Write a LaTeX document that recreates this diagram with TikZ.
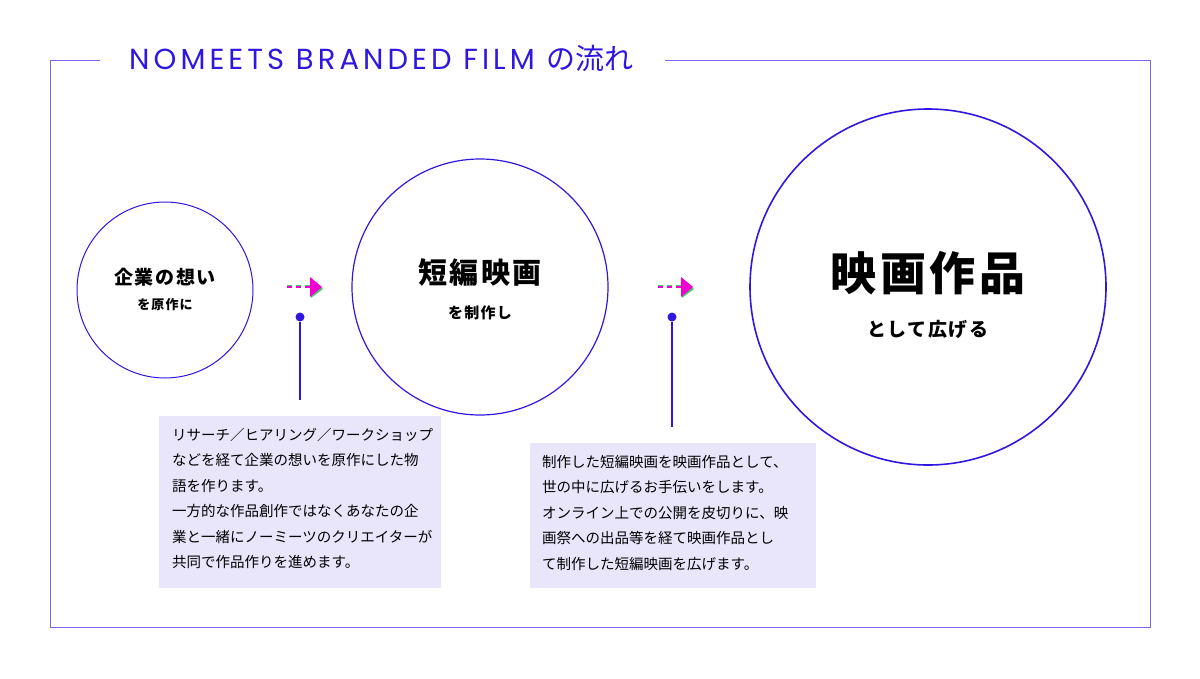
\documentclass[tikz,border=0pt]{standalone}
\usepackage{fontspec}
\setmainfont{Noto Sans CJK JP}
\newfontfamily\ttl[LetterSpace=14]{Poppins}
\newfontfamily\jpw[LetterSpace=8]{Noto Sans CJK JP}
\definecolor{ttlc}{HTML}{2F17E0}
\definecolor{frm}{HTML}{7A6AE8}
\definecolor{boxc}{HTML}{E9E6FC}
\definecolor{mag}{HTML}{F000D0}
\definecolor{grn}{HTML}{40D060}
\begin{document}
\begin{tikzpicture}[x=1pt,y=-1pt,
  circ/.style={draw=ttlc,circle,line width=#1},
  desc/.style={anchor=north west,inner sep=0pt,align=left,font=\fontsize{14.5}{25.5}\selectfont},
  arr/.style={line width=2pt,dash pattern=on 5pt off 4pt},
  dot/.style={circle,fill=ttlc,inner sep=0pt,minimum size=9pt}]
\useasboundingbox (0,0) rectangle (1200,678);
\draw[frm,line width=1pt] (100,60) -- (50,60) -- (50,627) -- (1150,627) -- (1150,60) -- (665,60);
\node[ttlc,font=\fontsize{29}{30}\selectfont,anchor=west,inner sep=0pt] (t) at (129,58) {{\ttl NOMEETS BRANDED FILM} \,の流れ};
\node[circ=1pt,minimum size=176pt] (c1) at (165,290) {};
\node[circ=1.2pt,minimum size=256pt] (c2) at (480,287) {};
\node[circ=1.6pt,minimum size=356pt] (c3) at (928,287) {};
\node[font=\fontsize{19}{22}\selectfont\jpw\bfseries] (a1) at (165,277) {企業の想い};
\node[font=\fontsize{13}{16}\selectfont\jpw\bfseries] (b1) at (165,305) {を原作に};
\node[font=\fontsize{29}{32}\selectfont\jpw\bfseries] (a2) at (480,273) {短編映画};
\node[font=\fontsize{15}{18}\selectfont\jpw\bfseries] (b2) at (480,313) {を制作し};
\node[font=\fontsize{46}{50}\selectfont\jpw\bfseries] (a3) at (928,273) {映画作品};
\node[font=\fontsize{19}{22}\selectfont\jpw\bfseries] (b3) at (928,329) {として広げる};
\foreach \x/\n in {287/p,658/q}{
  \coordinate (\n s) at (\x,287); \coordinate (\n e) at (\x+24,287);
  \draw[grn,arr] ([yshift=1.5pt]\n s) -- ([yshift=1.5pt]\n e);
  \draw[mag,arr] (\n s) -- (\n e);
  \fill[grn] (\x+24,278) -- (\x+36,289) -- (\x+24,298) -- cycle;
  \fill[mag] (\x+23,277) -- (\x+35,287) -- (\x+23,297) -- cycle;
}
\node[dot] (d1) at (300,317) {};
\coordinate (e1) at (300,400);
\draw[ttlc,line width=1.2pt] (d1) -- (e1);
\node[dot] (d2) at (672,317) {};
\coordinate (e2) at (672,427);
\draw[ttlc,line width=1.2pt] (d2) -- (e2);
\fill[boxc] (159,416) rectangle (441,588);
\fill[boxc] (530,443) rectangle (816,588);
\node[desc] (t1) at (172,428) {リサーチ／ヒアリング／ワークショップ\\などを経て企業の想いを原作にした物\\語を作ります。\\一方的な作品創作ではなくあなたの企\\業と一緒にノーミーツのクリエイターが\\共同で作品作りを進めます。};
\node[desc] (t2) at (542,455) {制作した短編映画を映画作品として、\\世の中に広げるお手伝いをします。\\オンライン上での公開を皮切りに、映\\画祭への出品等を経て映画作品とし\\て制作した短編映画を広げます。};
\end{tikzpicture}
\end{document}
